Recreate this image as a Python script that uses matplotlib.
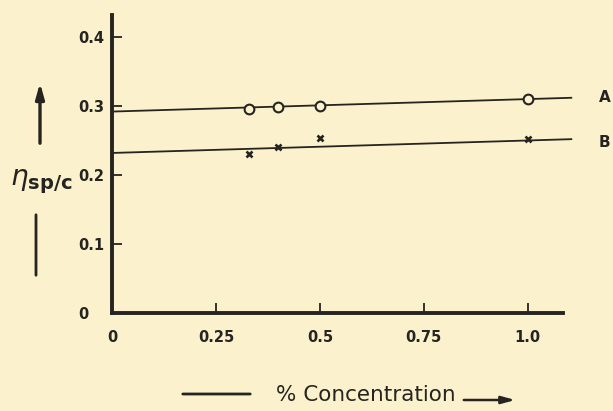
import matplotlib
matplotlib.use("Agg")
import matplotlib.pyplot as plt

# ---- data ----
conc = [0.33, 0.40, 0.50, 1.00]
series_a = [0.296, 0.299, 0.300, 0.310]
series_b = [0.231, 0.240, 0.254, 0.252]
fit_x = [0.0, 1.105]
fit_a = [0.292, 0.312]
fit_b = [0.232, 0.252]
xticks = [0, 0.25, 0.5, 0.75, 1.0]
xticklabels = ["0", "0.25", "0.5", "0.75", "1.0"]
yticks = [0, 0.1, 0.2, 0.3, 0.4]
yticklabels = ["0", "0.1", "0.2", "0.3", "0.4"]
series_names = ["A", "B"]

BG = "#FBF1CD"
INK = "#262420"

fig = plt.figure(figsize=(6.13, 4.11), dpi=100, facecolor=BG)
ax = fig.add_axes([112 / 613, 98 / 411, 451 / 613, 298 / 411])
ax.set_facecolor("none")
ax.set_xlim(0, 1.085)
ax.set_ylim(0, 0.432)

for s in ["top", "right"]:
    ax.spines[s].set_visible(False)
for s in ["left", "bottom"]:
    ax.spines[s].set_linewidth(2.8)
    ax.spines[s].set_color(INK)
    ax.spines[s].set_capstyle("projecting")

ax.plot(fit_x, fit_a, color=INK, lw=1.3, clip_on=False, zorder=2)
ax.plot(fit_x, fit_b, color=INK, lw=1.3, clip_on=False, zorder=2)
ax.plot(conc, series_a, "o", ms=7, mfc=BG, mec=INK, mew=1.5, zorder=3, clip_on=False)
ax.plot(conc, series_b, "x", ms=4.5, mec=INK, mew=1.9, zorder=3, clip_on=False)

ax.text(1.185, 0.3125, series_names[0], fontsize=11, fontweight="bold", color=INK,
        ha="center", va="center", clip_on=False)
ax.text(1.185, 0.247, series_names[1], fontsize=11, fontweight="bold", color=INK,
        ha="center", va="center", clip_on=False)

ax.set_xticks(xticks, labels=xticklabels)
ax.set_yticks(yticks, labels=yticklabels)
ax.tick_params(axis="both", direction="in", length=7, width=1.3, color=INK,
               labelcolor=INK, labelsize=10.5)
ax.tick_params(axis="x", pad=12)
ax.tick_params(axis="y", pad=24)
for lab in ax.get_yticklabels():
    lab.set_ha("left")
    lab.set_fontweight("bold")
for lab in ax.get_xticklabels():
    lab.set_fontweight("bold")

# y label with arrows
fig.text(10 / 613, 1 - 182 / 411, r"$\eta_{\mathbf{sp/c}}$", fontsize=20,
         color=INK, ha="left", va="center")
ax.annotate("", xy=(40, 411 - 80), xytext=(40, 411 - 146), xycoords="figure pixels",
            textcoords="figure pixels",
            arrowprops=dict(arrowstyle="-|>,head_length=0.9,head_width=0.25",
                            color=INK, lw=2.4))
ax.annotate("", xy=(36, 411 - 212), xytext=(36, 411 - 278), xycoords="figure pixels",
            textcoords="figure pixels",
            arrowprops=dict(arrowstyle="-", color=INK, lw=2.0))

# x label with lines/arrow
ax.annotate("", xy=(180, 411 - 394), xytext=(253, 411 - 394), xycoords="figure pixels",
            textcoords="figure pixels", arrowprops=dict(arrowstyle="-", color=INK, lw=2.0))
fig.text(366 / 613, 1 - 395 / 411, "% Concentration", fontsize=15.5, color=INK,
         ha="center", va="center")
ax.annotate("", xy=(518, 411 - 400), xytext=(461, 411 - 400), xycoords="figure pixels",
            textcoords="figure pixels",
            arrowprops=dict(arrowstyle="-|>,head_length=0.8,head_width=0.22",
                            color=INK, lw=1.8))

fig.savefig("out.png", dpi=100, facecolor=BG)
